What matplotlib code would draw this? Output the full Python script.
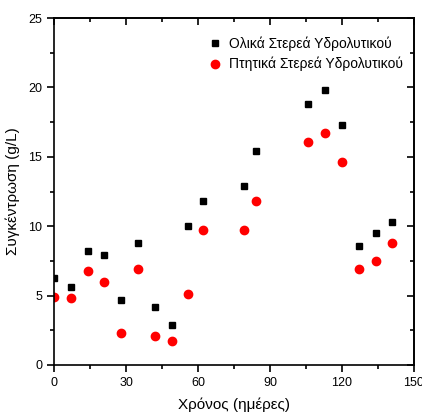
import matplotlib
matplotlib.use('Agg')
import matplotlib.pyplot as plt
from matplotlib.ticker import MultipleLocator

plt.rcParams['font.family'] = ['Liberation Sans', 'DejaVu Sans']

# sampling days
days = [0, 7, 14, 21, 28, 35, 42, 49, 56, 62, 79, 84, 106, 113, 120, 127, 134, 141]
# total solids of hydrolysate (g/L)
total = [6.3, 5.6, 8.2, 7.9, 4.7, 8.8, 4.2, 2.9, 10.0, 11.8, 12.9, 15.4, 18.8, 19.8, 17.3, 8.6, 9.5, 10.3]
# volatile solids of hydrolysate (g/L)
volatile = [4.9, 4.8, 6.8, 6.0, 2.3, 6.9, 2.1, 1.7, 5.1, 9.7, 9.7, 11.8, 16.1, 16.7, 14.6, 6.9, 7.5, 8.8]

fig = plt.figure(figsize=(4.22, 4.20), dpi=100)
ax = fig.add_axes([0.128, 0.131, 0.853, 0.826])

ax.plot(days, total, 's', color='black', markersize=5, label='Ολικά Στερεά Υδρολυτικού')
ax.plot(days, volatile, 'o', color='red', markersize=6, label='Πτητικά Στερεά Υδρολυτικού')

ax.set_xlim(0, 150)
ax.set_ylim(0, 25)
ax.xaxis.set_major_locator(MultipleLocator(30))
ax.xaxis.set_minor_locator(MultipleLocator(15))
ax.yaxis.set_major_locator(MultipleLocator(5))
ax.yaxis.set_minor_locator(MultipleLocator(2.5))

ax.tick_params(which='both', direction='out', top=False, right=False, labelsize=9, width=1.2)
ax.tick_params(which='major', length=5)
ax.tick_params(which='minor', length=3)
# mirrored ticks on top/right, pointing in
sec_x = ax.secondary_xaxis('top')
sec_x.xaxis.set_major_locator(MultipleLocator(30))
sec_x.xaxis.set_minor_locator(MultipleLocator(15))
sec_x.tick_params(which='both', direction='in', labeltop=False, width=1.2)
sec_x.tick_params(which='major', length=5)
sec_x.tick_params(which='minor', length=3)
sec_y = ax.secondary_yaxis('right')
sec_y.yaxis.set_major_locator(MultipleLocator(5))
sec_y.yaxis.set_minor_locator(MultipleLocator(2.5))
sec_y.tick_params(which='both', direction='in', labelright=False, width=1.2)
sec_y.tick_params(which='major', length=5)
sec_y.tick_params(which='minor', length=3)

for s in ax.spines.values():
    s.set_linewidth(1.2)
sec_x.spines['top'].set_linewidth(1.2)
sec_y.spines['right'].set_linewidth(1.2)

ax.set_xlabel('Χρόνος (ημέρες)', fontsize=11, labelpad=6)
ax.set_ylabel('Συγκέντρωση (g/L)', fontsize=11, labelpad=6)

ax.legend(loc='upper right', bbox_to_anchor=(1.02, 1.0), frameon=False, fontsize=10,
          handletextpad=0.4, borderaxespad=0.9, handlelength=1.2, labelspacing=0.45)

fig.savefig('out.png', dpi=100)
